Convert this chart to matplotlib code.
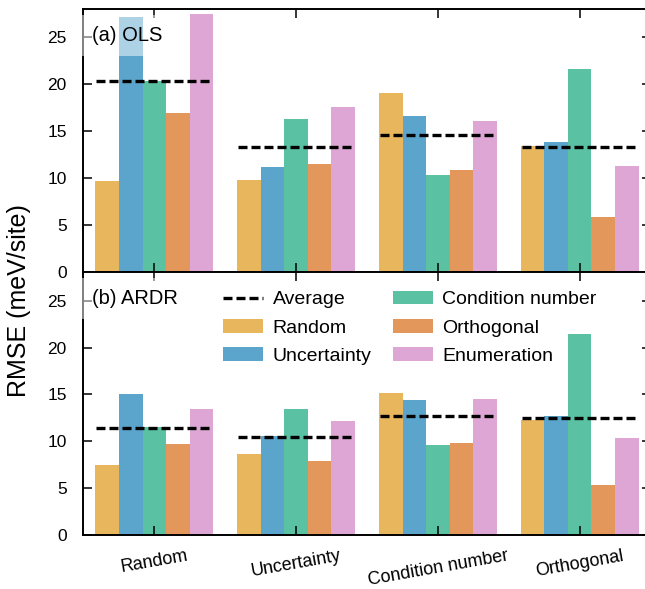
import matplotlib.pyplot as plt
import numpy as np

plt.rcParams['font.family'] = ['Liberation Sans', 'DejaVu Sans']

groups = ["Random", "Uncertainty", "Condition number", "Orthogonal"]
methods = ["Random", "Uncertainty", "Condition number", "Orthogonal", "Enumeration"]
colors = ["#E8B65C", "#5BA5CD", "#5AC1A2", "#E4975A", "#DEA6D4"]

# RMSE values (meV/site), one list per method, in group order
ols_random = [9.7, 9.8, 19.1, 13.4]
ols_uncertainty = [27.1, 11.2, 16.6, 13.9]
ols_condition = [20.3, 16.3, 10.4, 21.6]
ols_orthogonal = [16.9, 11.5, 10.9, 5.9]
ols_enumeration = [27.5, 17.6, 16.1, 11.3]
ols_average = [20.4, 13.3, 14.6, 13.3]

ardr_random = [7.5, 8.7, 15.2, 12.3]
ardr_uncertainty = [15.0, 10.6, 14.4, 12.7]
ardr_condition = [11.5, 13.4, 9.6, 21.4]
ardr_orthogonal = [9.7, 7.9, 9.8, 5.4]
ardr_enumeration = [13.5, 12.2, 14.5, 10.4]
ardr_average = [11.4, 10.5, 12.7, 12.5]

ols = [ols_random, ols_uncertainty, ols_condition, ols_orthogonal, ols_enumeration]
ardr = [ardr_random, ardr_uncertainty, ardr_condition, ardr_orthogonal, ardr_enumeration]

fig = plt.figure(figsize=(6.45, 5.89), dpi=100)
ax1 = fig.add_axes([0.1293, 0.5375, 0.8794, 0.4472])
ax2 = fig.add_axes([0.1293, 0.0912, 0.8794, 0.4463])

x = np.arange(len(groups))
width = 0.166


def draw_panel(ax, data, average, label):
    for i in range(len(methods)):
        ax.bar(x + (i - 2) * width, data[i], width, color=colors[i], label=methods[i], zorder=1)
    for j in range(len(groups)):
        ax.plot([x[j] - 0.41, x[j] + 0.41], [average[j], average[j]], color="black",
                linestyle=(0, (2.7, 1.2)), linewidth=2.4, zorder=2,
                label="Average" if j == 0 else None)
    ax.set_xlim(-0.5, 3.5)
    ax.set_ylim(0, 28)
    ax.set_yticks([0, 5, 10, 15, 20, 25])
    ax.set_xticks(x)
    ax.tick_params(direction="in", length=6.5, width=1.1, top=True, right=True,
                   labelsize=12.5, pad=12)
    for s in ax.spines.values():
        s.set_linewidth(1.4)
    ax.text(0.016, 0.9, label, transform=ax.transAxes, fontsize=14.5, ha="left", va="center",
            zorder=5, bbox=dict(boxstyle="square,pad=0.55", facecolor="white", alpha=0.5,
                                edgecolor="none"))


draw_panel(ax1, ols, ols_average, "(a) OLS")
draw_panel(ax2, ardr, ardr_average, "(b) ARDR")

ax1.set_xticklabels([])
ax2.set_xticklabels(groups, rotation=10, fontsize=13)
ax2.tick_params(axis="x", pad=9)

# legend: Average first, then the five methods, filled column by column
ax2.legend(ncol=2, frameon=False, loc="upper left", bbox_to_anchor=(0.246, 0.93),
           borderpad=0, borderaxespad=0, fontsize=14, handlelength=2.05, handleheight=0.7,
           handletextpad=0.5, labelspacing=0.55, columnspacing=1.1)

fig.text(0.03, 0.49, "RMSE (meV/site)", rotation=90, fontsize=18, ha="center", va="center")

fig.savefig("out.png", dpi=100)
